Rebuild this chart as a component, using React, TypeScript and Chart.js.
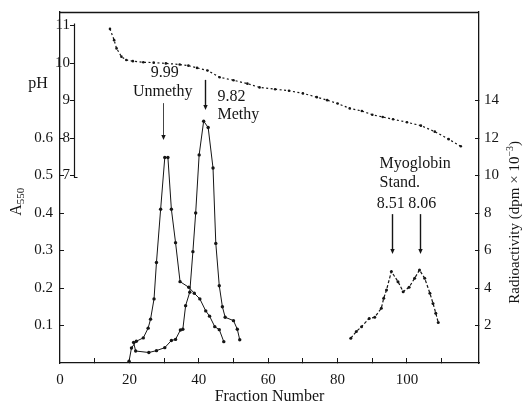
import React, { useEffect, useRef } from 'react';
import { Chart, registerables } from 'chart.js';

Chart.register(...registerables);

// ---- data ----
const unmethyFraction = [19.9, 20.6, 22, 24, 25.4, 26.1, 27.1, 27.8, 29, 30.2, 31.1, 32.1, 33.3, 34.6, 37.1, 38.7, 40.3, 42, 43.1, 44.6, 45.9, 47.2];
const unmethyA550 = [0.005, 0.04, 0.058, 0.067, 0.093, 0.117, 0.171, 0.268, 0.41, 0.548, 0.548, 0.41, 0.321, 0.217, 0.202, 0.186, 0.171, 0.139, 0.125, 0.097, 0.089, 0.057];

const methyFraction = [21.2, 21.8, 25.6, 27.8, 30.2, 32.1, 33.3, 34.7, 35.4, 36.2, 37.4, 38.3, 39.1, 40.1, 41.4, 42.7, 44.1, 44.9, 45.9, 46.8, 47.6, 50, 51.1, 51.8];
const methyA550 = [0.055, 0.032, 0.028, 0.033, 0.041, 0.06, 0.063, 0.088, 0.09, 0.153, 0.189, 0.297, 0.4, 0.555, 0.645, 0.628, 0.52, 0.319, 0.206, 0.15, 0.122, 0.113, 0.09, 0.062];

const myoglobinFraction = [83.8, 85.4, 86.9, 89.1, 90.7, 92.6, 93.3, 94.1, 95.5, 97.4, 98.9, 100.6, 102.2, 103.6, 105.1, 106.6, 107.5, 108.3, 109];
const myoglobinA550 = [0.066, 0.084, 0.097, 0.119, 0.122, 0.146, 0.173, 0.195, 0.244, 0.217, 0.19, 0.202, 0.226, 0.248, 0.226, 0.186, 0.159, 0.133, 0.108];

const phFraction = [14.4, 15.6, 16.3, 17.7, 19.1, 21, 24, 27, 30.5, 34.5, 37, 39.5, 42.5, 46, 50, 54, 57.5, 62, 66, 70, 74, 77, 80, 83.5, 87, 90, 93, 96, 100, 104, 108, 112, 115.5];
const phValues = [10.91, 10.61, 10.39, 10.17, 10.08, 10.05, 10.02, 10.01, 9.99, 9.96, 9.93, 9.87, 9.8, 9.62, 9.54, 9.45, 9.35, 9.3, 9.26, 9.19, 9.09, 9.01, 8.92, 8.79, 8.72, 8.62, 8.56, 8.5, 8.42, 8.33, 8.17, 7.97, 7.78];

const xTickLabels = [0, 20, 40, 60, 80, 100];
const a550TickLabels = [0.1, 0.2, 0.3, 0.4, 0.5, 0.6];
const radioTickLabels = [2, 4, 6, 8, 10, 12, 14];
const phTickLabels = [7, 8, 9, 10, 11];

// ---- annotations (in data space) ----
const annotationTexts = [
  { text: '9.99', x: 30.2, y: 0.773, align: 'center' },
  { text: 'Unmethy', x: 29.6, y: 0.723, align: 'center' },
  { text: '9.82', x: 45.4, y: 0.709, align: 'left' },
  { text: 'Methy', x: 45.4, y: 0.661, align: 'left' },
  { text: 'Myoglobin', x: 92.1, y: 0.531, align: 'left' },
  { text: 'Stand.', x: 92.1, y: 0.48, align: 'left' },
  { text: '8.51', x: 95.3, y: 0.424, align: 'center' },
  { text: '8.06', x: 104.4, y: 0.424, align: 'center' },
];
const arrows = [
  { x: 29.6, from: 0.693, to: 0.595, width: 0.8 },
  { x: 41.7, from: 0.755, to: 0.675, width: 1.4 },
  { x: 95.6, from: 0.397, to: 0.291, width: 1.4 },
  { x: 103.7, from: 0.397, to: 0.291, width: 1.4 },
];

const INK = '#151515';
const SERIF = "'Liberation Serif', 'DejaVu Serif', serif";
const A550_MAX = 0.936;
const PH_AXIS_AT = 2.9;

const toXY = (xs: number[], ys: number[]) => xs.map((x, i) => ({ x, y: ys[i] }));
const near = (v: number, list: number[]) => list.some((t) => Math.abs(t - v) < 1e-6);
const noPad = (s: any) => {
  s.paddingTop = 0;
  s.paddingBottom = 0;
  s.paddingLeft = 0;
  s.paddingRight = 0;
};

const decorPlugin = {
  id: 'decor',
  afterDraw(chart: any) {
    const { ctx, chartArea, scales } = chart;
    const xs = scales.x;
    const ys = scales.y;
    const ph = scales.ph;
    ctx.save();
    ctx.strokeStyle = INK;
    ctx.fillStyle = INK;

    // top frame
    ctx.lineWidth = 1.3;
    ctx.beginPath();
    ctx.moveTo(chartArea.left, chartArea.top + 0.5);
    ctx.lineTo(chartArea.right, chartArea.top + 0.5);
    ctx.stroke();

    // pH axis line (ticks are drawn by the scale, to its left)
    const px = Math.round(xs.getPixelForValue(PH_AXIS_AT)) + 4.5;
    const pTop = ph.getPixelForValue(11) - 2;
    const pBot = ph.getPixelForValue(7) + 2;
    ctx.lineWidth = 1.2;
    ctx.beginPath();
    ctx.moveTo(px, pTop);
    ctx.lineTo(px, pBot);
    ctx.lineTo(px + 3, pBot);
    ctx.stroke();

    // pH label
    ctx.font = `16px ${SERIF}`;
    ctx.textAlign = 'center';
    ctx.textBaseline = 'middle';
    ctx.fillText('pH', 38, ph.getPixelForValue(9.45));

    // left title A550 (rotated, subscript)
    const yMid = ys.getPixelForValue(0.43);
    ctx.save();
    ctx.translate(16, yMid);
    ctx.rotate(-Math.PI / 2);
    ctx.font = `16px ${SERIF}`;
    const wA = ctx.measureText('A').width;
    ctx.font = `11px ${SERIF}`;
    const wS = ctx.measureText('550').width;
    const start = -(wA + wS) / 2;
    ctx.textAlign = 'left';
    ctx.textBaseline = 'alphabetic';
    ctx.font = `16px ${SERIF}`;
    ctx.fillText('A', start, 5);
    ctx.font = `11px ${SERIF}`;
    ctx.fillText('550', start + wA, 8);
    ctx.restore();

    // right title (rotated, reads bottom to top)
    const rMid = ys.getPixelForValue(0.375);
    ctx.save();
    ctx.translate(514, rMid);
    ctx.rotate(-Math.PI / 2);
    const p1 = 'Radioactivity (dpm \u00d7 10';
    const p2 = '\u22123';
    const p3 = ')';
    ctx.font = `15px ${SERIF}`;
    const w1 = ctx.measureText(p1).width;
    const w3 = ctx.measureText(p3).width;
    ctx.font = `10px ${SERIF}`;
    const w2 = ctx.measureText(p2).width;
    let sx = -(w1 + w2 + w3) / 2;
    ctx.textAlign = 'left';
    ctx.textBaseline = 'alphabetic';
    ctx.font = `15px ${SERIF}`;
    ctx.fillText(p1, sx, 5);
    sx += w1;
    ctx.font = `10px ${SERIF}`;
    ctx.fillText(p2, sx, -1);
    sx += w2;
    ctx.font = `15px ${SERIF}`;
    ctx.fillText(p3, sx, 5);
    ctx.restore();

    // annotation texts
    ctx.font = `16px ${SERIF}`;
    ctx.textBaseline = 'middle';
    annotationTexts.forEach((a) => {
      ctx.textAlign = a.align as CanvasTextAlign;
      ctx.fillText(a.text, xs.getPixelForValue(a.x), ys.getPixelForValue(a.y));
    });

    // arrows
    arrows.forEach((a) => {
      const x = Math.round(xs.getPixelForValue(a.x)) + 0.5;
      const y1 = ys.getPixelForValue(a.from);
      const y2 = ys.getPixelForValue(a.to);
      ctx.lineWidth = a.width;
      ctx.beginPath();
      ctx.moveTo(x, y1);
      ctx.lineTo(x, y2 - 4);
      ctx.stroke();
      ctx.beginPath();
      ctx.moveTo(x - 2.2, y2 - 5);
      ctx.lineTo(x + 2.2, y2 - 5);
      ctx.lineTo(x, y2);
      ctx.closePath();
      ctx.fill();
    });

    ctx.restore();
  },
};

export default function App() {
  const ref = useRef<HTMLCanvasElement>(null);

  useEffect(() => {
    const canvas = ref.current;
    if (!canvas) return;
    const tickFont = { family: SERIF, size: 15 };
    const lineCommon = {
      borderColor: INK,
      pointBackgroundColor: INK,
      pointBorderColor: INK,
      pointBorderWidth: 0,
      tension: 0,
      fill: false,
    };
    const chart = new Chart(canvas, {
      type: 'line',
      data: {
        datasets: [
          {
            ...lineCommon,
            label: 'Unmethy',
            data: toXY(unmethyFraction, unmethyA550),
            borderWidth: 1,
            pointRadius: 1.7,
            yAxisID: 'y',
          },
          {
            ...lineCommon,
            label: 'Methy',
            data: toXY(methyFraction, methyA550),
            borderWidth: 1,
            pointRadius: 1.7,
            yAxisID: 'y',
          },
          {
            ...lineCommon,
            label: 'Myoglobin Stand.',
            data: toXY(myoglobinFraction, myoglobinA550),
            borderWidth: 1.2,
            borderDash: [3, 2],
            pointRadius: 1.5,
            yAxisID: 'y',
          },
          {
            ...lineCommon,
            label: 'pH',
            data: toXY(phFraction, phValues),
            borderWidth: 1.2,
            borderDash: [2, 2.5],
            pointRadius: 1.3,
            yAxisID: 'ph',
          },
        ],
      },
      options: {
        responsive: false,
        animation: false,
        parsing: false,
        normalized: true,
        layout: { padding: { top: 12, left: 0, right: 0, bottom: 0 } },
        plugins: {
          legend: { display: false },
          tooltip: { enabled: false },
        },
        scales: {
          x: {
            type: 'linear',
            position: 'bottom',
            min: 0,
            max: 120.75,
            afterFit: (s: any) => {
              s.height = 47;
              noPad(s);
            },
            ticks: {
              stepSize: 10,
              includeBounds: false,
              autoSkip: false,
              maxRotation: 0,
              padding: 13,
              color: INK,
              font: tickFont,
              callback: (v: any) => (near(Number(v), xTickLabels) ? String(v) : ''),
            },
            grid: {
              drawOnChartArea: false,
              drawTicks: true,
              tickLength: -5,
              lineWidth: 1,
              color: (c: any) => {
                const v = c.tick ? c.tick.value : 0;
                return v > 5 && v < 115 ? INK : 'rgba(0,0,0,0)';
              },
            },
            border: { display: true, color: INK, width: 1.3 },
            title: {
              display: true,
              text: 'Fraction Number',
              color: INK,
              font: { family: SERIF, size: 16 },
              padding: { top: 0, bottom: 4 },
            },
          },
          y: {
            type: 'linear',
            position: 'left',
            min: 0,
            max: A550_MAX,
            afterFit: (s: any) => {
              s.width = 60;
              noPad(s);
            },
            ticks: {
              stepSize: 0.1,
              includeBounds: false,
              autoSkip: false,
              padding: 11,
              color: INK,
              font: tickFont,
              callback: (v: any) => (near(Number(v), a550TickLabels) ? Number(v).toFixed(1) : ''),
            },
            grid: {
              drawOnChartArea: false,
              drawTicks: true,
              tickLength: -4,
              lineWidth: 1,
              color: (c: any) => (c.tick && near(c.tick.value, a550TickLabels) ? INK : 'rgba(0,0,0,0)'),
            },
            border: { display: true, color: INK, width: 1.3 },
            title: { display: false },
          },
          y2: {
            type: 'linear',
            position: 'right',
            min: 0,
            max: A550_MAX * 20,
            afterFit: (s: any) => {
              s.width = 51;
              noPad(s);
            },
            ticks: {
              stepSize: 2,
              includeBounds: false,
              autoSkip: false,
              padding: 9,
              color: INK,
              font: tickFont,
              callback: (v: any) => (near(Number(v), radioTickLabels) ? String(v) : ''),
            },
            grid: {
              drawOnChartArea: false,
              drawTicks: true,
              tickLength: -4,
              lineWidth: 1,
              color: (c: any) => (c.tick && near(c.tick.value, radioTickLabels) ? INK : 'rgba(0,0,0,0)'),
            },
            border: { display: true, color: INK, width: 1.3 },
          },
          ph: {
            type: 'linear',
            axis: 'y',
            position: { x: PH_AXIS_AT },
            min: 2,
            max: 2 + A550_MAX * 10,
            afterFit: (s: any) => noPad(s),
            afterBuildTicks: (axis: any) => {
              axis.ticks = phTickLabels.map((v) => ({ value: v }));
            },
            ticks: {
              autoSkip: false,
              padding: 1,
              color: INK,
              font: tickFont,
              callback: (v: any) => String(v),
            },
            grid: {
              drawOnChartArea: false,
              drawTicks: true,
              tickLength: -4,
              lineWidth: 1,
              color: INK,
            },
            border: { display: false },
          },
        },
      } as any,
      plugins: [decorPlugin],
    });
    return () => chart.destroy();
  }, []);

  return (
    <div style={{ position: 'fixed', left: 0, top: 0, width: 530, height: 410, background: '#fff' }}>
      <canvas ref={ref} width={530} height={410} style={{ display: 'block', width: 530, height: 410 }} />
    </div>
  );
}
